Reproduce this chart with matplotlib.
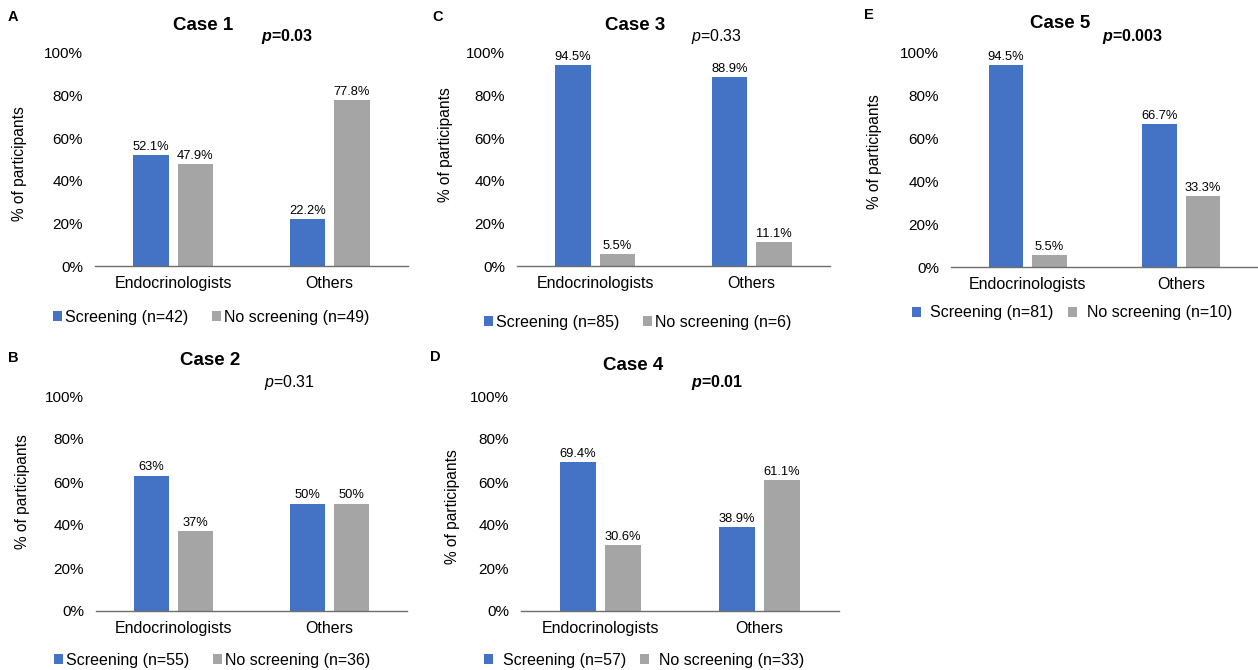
import matplotlib
matplotlib.use('Agg')
import matplotlib.pyplot as plt
import numpy as np

plt.rcParams['font.family'] = ['Liberation Sans', 'DejaVu Sans']
plt.rcParams['mathtext.fontset'] = 'custom'
plt.rcParams['mathtext.rm'] = 'Liberation Sans'
plt.rcParams['mathtext.it'] = 'Liberation Sans:italic'
plt.rcParams['mathtext.bf'] = 'Liberation Sans:bold'
plt.rcParams['mathtext.bfit'] = 'Liberation Sans:bold:italic'

W, H = 1258, 670
BLUE = '#4472C4'
GRAY = '#A5A5A5'

groups = ['Endocrinologists', 'Others']
panel_letters = ['A', 'B', 'C', 'D', 'E']
case_titles = ['Case 1', 'Case 2', 'Case 3', 'Case 4', 'Case 5']
screening = [[52.1, 22.2], [63, 50], [94.5, 88.9], [69.4, 38.9], [94.5, 66.7]]
no_screening = [[47.9, 77.8], [37, 50], [5.5, 11.1], [30.6, 61.1], [5.5, 33.3]]
screening_n = [42, 55, 85, 57, 81]
no_screening_n = [49, 36, 6, 33, 10]
p_values = ['0.03', '0.31', '0.33', '0.01', '0.003']
p_significant = [True, False, False, True, True]
y_ticks = [0, 20, 40, 60, 80, 100]

# pixel geometry of each panel, measured from the top-left corner
layouts = [
    dict(box=(95, 53, 408, 266), title=(203, 25), p=(287, 36), letter=(13, 17),
         ylab=(20, 164), legend=(211, 317), textpad=0.2, colsp=1.5),
    dict(box=(96, 396, 407, 611), title=(210, 361), p=(290, 383), letter=(13, 358),
         ylab=(23, 492), legend=(212, 660), textpad=0.2, colsp=1.5),
    dict(box=(517, 53, 830, 266), title=(635, 26), p=(717, 37), letter=(438, 17),
         ylab=(445, 145), legend=(638, 322), textpad=0.2, colsp=1.5),
    dict(box=(521, 396, 839, 611), title=(633, 366), p=(717, 382), letter=(435, 357),
         ylab=(452, 507), legend=(644, 660), textpad=0.6, colsp=0.9),
    dict(box=(951, 53, 1258, 267), title=(1060, 23), p=(1133, 36), letter=(869, 15),
         ylab=(875, 152), legend=(1072, 313), textpad=0.6, colsp=0.9),
]


def fx(x):
    return x / W


def fy(y):
    return 1 - y / H


fig = plt.figure(figsize=(W / 100, H / 100), dpi=100)
x = np.arange(len(groups))
off, bw = 0.142, 0.225

for i, lay in enumerate(layouts):
    x0, y0, x1, y1 = lay['box']
    ax = fig.add_axes([fx(x0), fy(y1), (x1 - x0) / W, (y1 - y0) / H])
    b1 = ax.bar(x - off, screening[i], bw, color=BLUE,
                label=f'Screening (n={screening_n[i]})')
    b2 = ax.bar(x + off, no_screening[i], bw, color=GRAY,
                label=f'No screening (n={no_screening_n[i]})')
    for bars, vals in ((b1, screening[i]), (b2, no_screening[i])):
        ax.bar_label(bars, labels=[f'{v:g}%' for v in vals], padding=1.5,
                     fontsize=9.3)

    ax.set_xlim(-0.5, 1.5)
    ax.set_ylim(0, 100)
    ax.set_xticks(x)
    ax.set_xticklabels(groups, fontsize=11.5)
    ax.set_yticks(y_ticks)
    ax.set_yticklabels([f'{t}%' for t in y_ticks], fontsize=11)
    ax.tick_params(axis='both', length=0)
    ax.tick_params(axis='x', pad=7)
    ax.tick_params(axis='y', pad=8.5)
    for side in ('top', 'right', 'left'):
        ax.spines[side].set_visible(False)
    ax.spines['bottom'].set_color('#6e6e6e')
    ax.spines['bottom'].set_linewidth(1.0)

    fig.text(fx(lay['ylab'][0]), fy(lay['ylab'][1]), '% of participants',
             rotation=90, ha='center', va='center', fontsize=11.2)
    fig.text(fx(lay['title'][0]), fy(lay['title'][1]), case_titles[i],
             ha='center', va='center', fontsize=13.5, fontweight='bold')
    fig.text(fx(lay['letter'][0]), fy(lay['letter'][1]), panel_letters[i],
             ha='center', va='center', fontsize=10.5, fontweight='bold')
    if p_significant[i]:
        ptxt = r'$\mathbfit{p}$=' + p_values[i]
        weight = 'bold'
    else:
        ptxt = r'$\mathit{p}$=' + p_values[i]
        weight = 'normal'
    fig.text(fx(lay['p'][0]), fy(lay['p'][1]), ptxt, ha='center',
             va='center', fontsize=11.5, fontweight=weight)

    ax.legend(loc='center', bbox_to_anchor=(fx(lay['legend'][0]), fy(lay['legend'][1])),
              bbox_transform=fig.transFigure, ncol=2, frameon=False,
              fontsize=11.5, handlelength=0.55, handleheight=0.55,
              handletextpad=lay['textpad'], columnspacing=lay['colsp'],
              borderpad=0)

fig.savefig('out.png', dpi=100)
